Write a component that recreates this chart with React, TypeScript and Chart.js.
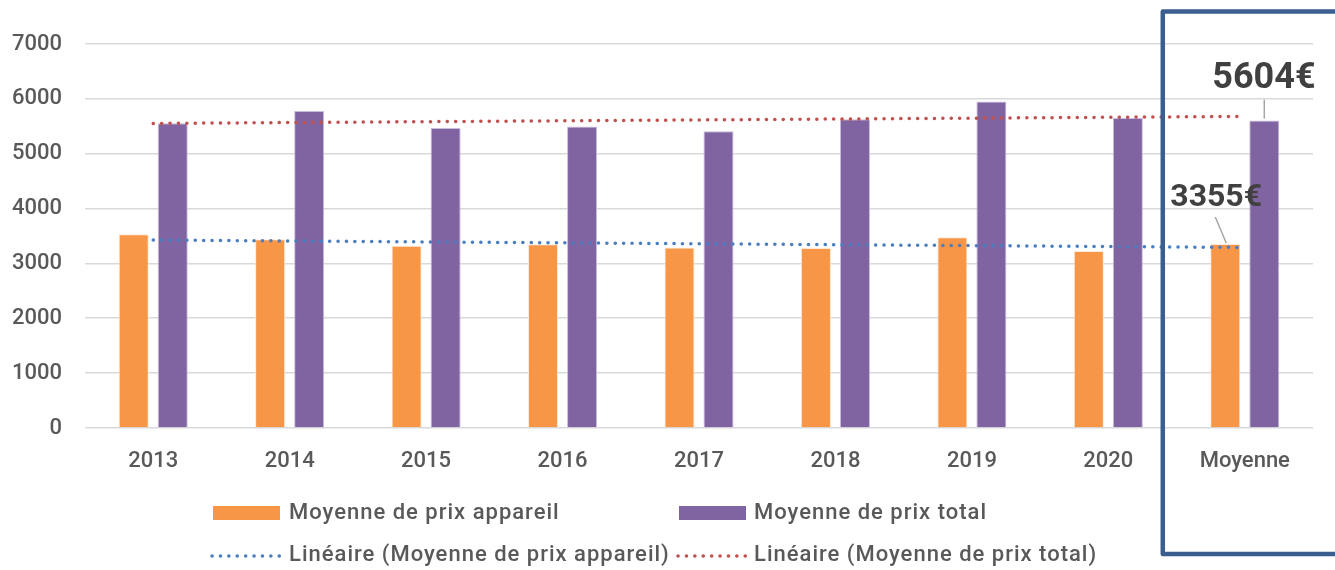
import React, { useEffect, useRef } from "react";
import { Chart, registerables } from "chart.js";

Chart.register(...registerables);

const categories = ["2013", "2014", "2015", "2016", "2017", "2018", "2019", "2020", "Moyenne"];
const prixAppareil = [3530, 3440, 3320, 3350, 3290, 3280, 3475, 3225, 3355];
const prixTotal = [5555, 5780, 5470, 5495, 5410, 5630, 5950, 5650, 5604];
const trendAppareil = [3426, null, null, null, null, null, null, null, 3291];
const trendTotal = [5552, null, null, null, null, null, null, null, 5680];
const yTicks = [0, 1000, 2000, 3000, 4000, 5000, 6000, 7000];
const labelAppareil = "Moyenne de prix appareil";
const labelTotal = "Moyenne de prix total";
const labelTrendAppareil = "Linéaire (Moyenne de prix appareil)";
const labelTrendTotal = "Linéaire (Moyenne de prix total)";
const annotAppareil = "3355€";
const annotTotal = "5604€";

const ORANGE = "#F79646";
const PURPLE = "#8064A2";
const BLUE = "#4A7EC0";
const RED = "#C0504D";
const TEXT = "#595959";
const FONT = "Roboto";

const overlayPlugin = {
  id: "overlay",
  afterDraw(chart: any) {
    const ctx = chart.ctx;
    const x = chart.scales.x;
    ctx.save();

    // annotations on the "Moyenne" bars
    const meta0 = chart.getDatasetMeta(0);
    const meta1 = chart.getDatasetMeta(1);
    const bA = meta0.data[8];
    const bT = meta1.data[8];
    ctx.strokeStyle = "#A6A6A6";
    ctx.lineWidth = 1.5;
    ctx.beginPath();
    ctx.moveTo(bT.x, bT.y - 2);
    ctx.lineTo(bT.x, bT.y - 21);
    ctx.stroke();
    ctx.beginPath();
    ctx.moveTo(bA.x + 1, bA.y - 1);
    ctx.lineTo(bA.x - 10, bA.y - 27);
    ctx.stroke();

    ctx.fillStyle = "#404040";
    ctx.textBaseline = "alphabetic";
    ctx.textAlign = "left";
    ctx.font = `bold 36px ${FONT}`;
    ctx.fillText(annotTotal, bT.x - 52, bT.y - 33);
    ctx.font = `bold 32px ${FONT}`;
    ctx.fillText(annotAppareil, bA.x - 55, bA.y - 38);

    // highlight box around the average
    ctx.strokeStyle = "#3A5E8E";
    ctx.lineWidth = 4.5;
    ctx.lineJoin = "round";
    const left = x.getPixelForValue(8) - 82;
    ctx.strokeRect(left, 11.5, 400, 554 - 11.5);

    // legend
    const ds = chart.data.datasets;
    ctx.font = `500 22px ${FONT}`;
    (ctx as any).letterSpacing = "1px";
    ctx.fillStyle = TEXT;
    ctx.textBaseline = "middle";
    const cols = [213, 679];
    const textX = [289, 754];
    [0, 1].forEach((i) => {
      ctx.fillStyle = ds[i].backgroundColor;
      ctx.fillRect(cols[i], 506, 67, 14);
      ctx.fillStyle = TEXT;
      ctx.fillText(ds[i].label, textX[i], 513);
    });
    [2, 3].forEach((k, i) => {
      ctx.strokeStyle = ds[k].borderColor;
      ctx.lineWidth = 3.5;
      ctx.lineCap = "round";
      ctx.setLineDash([0.1, 8.3]);
      ctx.beginPath();
      ctx.moveTo(cols[i] - 1, 556);
      ctx.lineTo(cols[i] + 71, 556);
      ctx.stroke();
      ctx.setLineDash([]);
      ctx.fillStyle = TEXT;
      ctx.fillText(ds[k].label, textX[i], 555);
    });
    (ctx as any).letterSpacing = "0px";
    ctx.restore();
  },
};

export default function App() {
  const ref = useRef<HTMLCanvasElement | null>(null);
  useEffect(() => {
    if (!ref.current) return;
    const chart = new Chart(ref.current, {
      type: "bar",
      data: {
        labels: categories,
        datasets: [
          {
            type: "bar",
            label: labelAppareil,
            data: prixAppareil,
            backgroundColor: ORANGE,
            borderColor: "rgba(255,230,210,0.9)",
            borderWidth: 1,
            categoryPercentage: 0.572,
            barPercentage: 0.77,
            order: 2,
          },
          {
            type: "bar",
            label: labelTotal,
            data: prixTotal,
            backgroundColor: PURPLE,
            borderColor: "#C9BCDC",
            borderWidth: 1,
            categoryPercentage: 0.572,
            barPercentage: 0.77,
            order: 2,
          },
          {
            type: "line",
            label: labelTrendAppareil,
            data: trendAppareil as any,
            borderColor: BLUE,
            backgroundColor: BLUE,
            borderWidth: 3.5,
            borderCapStyle: "round",
            borderDash: [0.1, 8.3],
            pointRadius: 0,
            spanGaps: true,
            order: 0,
          } as any,
          {
            type: "line",
            label: labelTrendTotal,
            data: trendTotal as any,
            borderColor: RED,
            backgroundColor: RED,
            borderWidth: 3.5,
            borderCapStyle: "round",
            borderDash: [0.1, 8.3],
            pointRadius: 0,
            spanGaps: true,
            order: 0,
          } as any,
        ],
      },
      options: {
        animation: false,
        responsive: false,
        maintainAspectRatio: false,
        layout: { padding: { top: 44, right: 22, left: 0, bottom: 0 } },
        plugins: { legend: { display: false }, tooltip: { enabled: false } },
        scales: {
          x: {
            grid: { display: false, drawTicks: false },
            border: { display: false },
            ticks: { color: TEXT, font: { family: FONT, size: 22, weight: "500" }, padding: 20 },
            afterFit(scale: any) {
              scale.height = 142;
            },
          },
          y: {
            min: 0,
            max: 7000,
            afterBuildTicks(scale: any) {
              scale.ticks = yTicks.map((v) => ({ value: v }));
            },
            grid: { color: "#D9D9D9", lineWidth: 1.6, drawTicks: false },
            border: { display: false },
            ticks: {
              color: TEXT,
              font: { family: FONT, size: 22, weight: "500" },
              padding: 23,
              callback: (v: any) => String(v),
            },
            afterFit(scale: any) {
              scale.width = 85;
            },
          },
        },
      },
      plugins: [overlayPlugin],
    });
    return () => chart.destroy();
  }, []);
  return (
    <div style={{ position: "absolute", left: 0, top: 0, width: 1335, height: 570, background: "#fff" }}>
      <canvas ref={ref} width={1335} height={570} style={{ display: "block" }} />
    </div>
  );
}
